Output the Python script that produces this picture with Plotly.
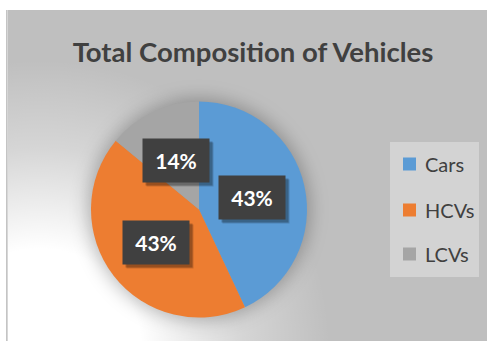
import base64
import math
import plotly.graph_objects as go

# Vehicle composition
categories = ["Cars", "HCVs", "LCVs"]
shares = [43, 43, 14]
colors = ["#5B9BD5", "#ED7D31", "#A5A5A5"]

W, H = 487, 341
FONT = "Lato"
TEXT_DARK = "#404040"

# pie placement in pixels
pie_cx, pie_cy, pie_r = 199, 209.5, 108


def px(x):
    return x / W


def py(y):
    return 1 - y / H


# chart background: grey panel, soft white glow from lower-left, pie drop shadow
svg = f"""<svg xmlns="http://www.w3.org/2000/svg" width="{W}" height="{H}" viewBox="0 0 {W} {H}">
<defs>
<radialGradient id="g" gradientUnits="userSpaceOnUse" cx="40" cy="350" r="290">
<stop offset="0" stop-color="#ffffff" stop-opacity="1"/>
<stop offset="0.35" stop-color="#ffffff" stop-opacity="1"/>
<stop offset="0.7" stop-color="#ffffff" stop-opacity="0.35"/>
<stop offset="1" stop-color="#ffffff" stop-opacity="0"/>
</radialGradient>
<filter id="b" x="-50%" y="-50%" width="200%" height="200%"><feGaussianBlur stdDeviation="9"/></filter>
<clipPath id="c"><rect x="7.5" y="10" width="{W}" height="{H}"/></clipPath>
</defs>
<rect width="{W}" height="{H}" fill="#ffffff"/>
<g clip-path="url(#c)">
<rect x="7.5" y="10" width="{W}" height="{H}" fill="#bfbfbf"/>
<rect x="7.5" y="10" width="{W}" height="{H}" fill="url(#g)"/>
<circle cx="{pie_cx}" cy="{pie_cy}" r="{pie_r + 3}" fill="#000000" fill-opacity="0.26" filter="url(#b)"/>
</g>
<line x1="6.8" y1="10" x2="6.8" y2="{H}" stroke="#c4c4c4" stroke-width="1.6"/>
</svg>"""
bg_uri = "data:image/svg+xml;base64," + base64.b64encode(svg.encode()).decode()

fig = go.Figure(
    go.Pie(
        labels=categories,
        values=shares,
        marker=dict(colors=colors, line=dict(width=0)),
        sort=False,
        direction="clockwise",
        rotation=0,
        textinfo="none",
        hoverinfo="label+percent",
        showlegend=False,
        domain=dict(
            x=[px(pie_cx - pie_r), px(pie_cx + pie_r)],
            y=[py(pie_cy + pie_r), py(pie_cy - pie_r)],
        ),
    )
)

annotations = []
shapes = []

# percentage labels in dark boxes at half radius along each slice's mid-angle
total = sum(shares)
start = 0.0
for val in shares:
    frac = val / total
    mid = (start + frac / 2) * 2 * math.pi
    start += frac
    lx = pie_cx + 0.5 * pie_r * math.sin(mid)
    ly = pie_cy - 0.5 * pie_r * math.cos(mid)
    label = f"{round(frac * 100)}%"
    box = dict(
        x=px(lx), y=py(ly), xref="paper", yref="paper",
        xanchor="center", yanchor="middle", showarrow=False,
        width=64, height=41,
    )
    for shift, alpha in ((4, 0.16), (3, 0.24)):
        annotations.append(dict(
            box, text=" ", bgcolor=f"rgba(0,0,0,{alpha})",
            xshift=shift, yshift=-shift, font=dict(size=21),
        ))
    annotations.append(dict(
        box, text=f"<b>{label}</b>", bgcolor="#404040",
        font=dict(family=FONT, size=21, color="#ffffff"),
    ))

# legend panel
shapes.append(dict(
    type="rect", xref="paper", yref="paper",
    x0=px(390), x1=px(479), y0=py(277), y1=py(142),
    fillcolor="#d3d3d3", line=dict(width=0), layer="above",
))
legend_rows = [164, 210, 254]
for name, col, ry in zip(categories, colors, legend_rows):
    shapes.append(dict(
        type="rect", xref="paper", yref="paper",
        x0=px(403), x1=px(416), y0=py(ry + 6.5), y1=py(ry - 6.5),
        fillcolor=col, line=dict(width=0), layer="above",
    ))
    annotations.append(dict(
        x=px(423), y=py(ry), xref="paper", yref="paper", text=name,
        xanchor="left", yanchor="middle", showarrow=False,
        font=dict(family=FONT, size=20, color=TEXT_DARK),
    ))

fig.update_layout(
    width=W, height=H,
    margin=dict(l=0, r=0, t=0, b=0),
    paper_bgcolor="#ffffff",
    plot_bgcolor="rgba(0,0,0,0)",
    title=dict(
        text="<b>Total Composition of Vehicles</b>",
        x=px(253), xanchor="center", y=py(52), yanchor="middle",
        xref="paper", yref="paper",
        font=dict(family=FONT, size=27.5, color=TEXT_DARK),
    ),
    images=[dict(
        source=bg_uri, xref="paper", yref="paper", x=0, y=1,
        sizex=1, sizey=1, sizing="stretch", xanchor="left", yanchor="top",
        layer="below",
    )],
    shapes=shapes,
    annotations=annotations,
)

fig.write_html("out.html")
